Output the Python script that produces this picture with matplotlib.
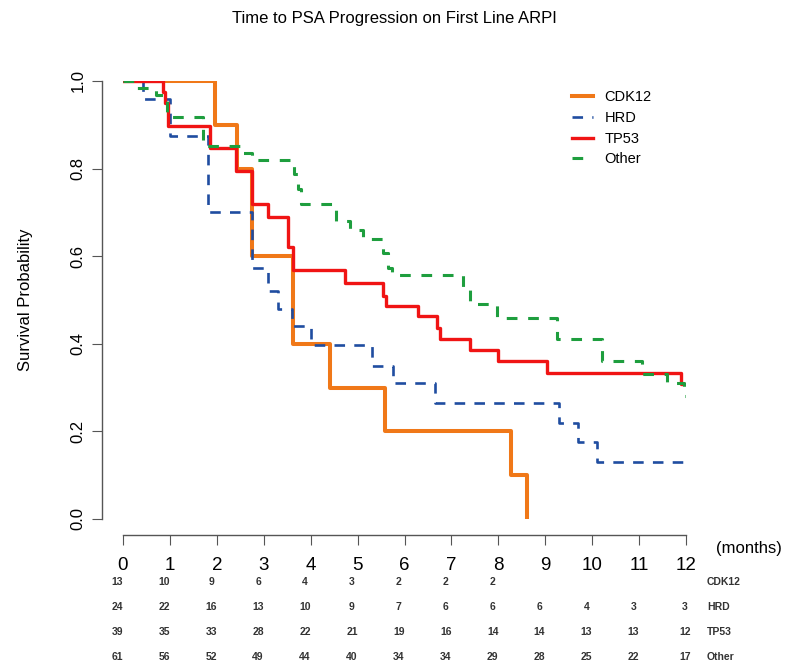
import numpy as np
import matplotlib.pyplot as plt
from matplotlib.transforms import blended_transform_factory

plt.rcParams['font.family'] = ['Liberation Sans', 'DejaVu Sans']

# Kaplan-Meier step curves
cdk12_t = [0, 1.96, 2.43, 2.75, 3.62, 4.41, 5.59, 8.27, 8.61]
cdk12_s = [1.0, 0.9, 0.8, 0.6, 0.4, 0.3, 0.2, 0.1, 0.0]

hrd_t = [0, 0.43, 1.0, 1.81, 2.75, 3.1, 3.3, 3.6, 4.0, 5.3, 5.75, 6.65, 9.3, 9.7, 10.1, 12.0]
hrd_s = [1.0, 0.958, 0.875, 0.70, 0.573, 0.52, 0.48, 0.44, 0.397, 0.35, 0.31, 0.265, 0.22, 0.175, 0.13, 0.13]

tp53_t = [0, 0.85, 0.9, 0.95, 1.86, 2.4, 2.75, 3.1, 3.52, 3.62, 4.73, 5.55, 5.6, 6.29,
          6.7, 6.75, 7.4, 8.0, 9.04, 11.9, 12.0]
tp53_s = [1.0, 0.974, 0.949, 0.897, 0.846, 0.795, 0.72, 0.69, 0.62, 0.568, 0.538, 0.51, 0.487,
          0.463, 0.436, 0.41, 0.385, 0.36, 0.333, 0.308, 0.308]

other_t = [0, 0.3, 0.7, 0.93, 1.7, 2.5, 2.75, 3.65, 3.72, 3.8, 4.55, 4.84, 5.12, 5.55, 5.65,
           5.73, 7.25, 7.4, 7.97, 9.25, 10.2, 11.07, 11.6, 11.95, 12.0]
other_s = [1.0, 0.984, 0.967, 0.918, 0.852, 0.836, 0.82, 0.787, 0.754, 0.72, 0.68, 0.66, 0.64,
           0.607, 0.574, 0.557, 0.525, 0.492, 0.459, 0.41, 0.36, 0.33, 0.31, 0.28, 0.28]

# number at risk table
risk_times = list(range(13))
risk_groups = ['CDK12', 'HRD', 'TP53', 'Other']
risk_cdk12 = [13, 10, 9, 6, 4, 3, 2, 2, 2, None, None, None, None]
risk_hrd = [24, 22, 16, 13, 10, 9, 7, 6, 6, 6, 4, 3, 3]
risk_tp53 = [39, 35, 33, 28, 22, 21, 19, 16, 14, 14, 13, 13, 12]
risk_other = [61, 56, 52, 49, 44, 40, 34, 34, 29, 28, 25, 22, 17]

fig = plt.figure(figsize=(7.87, 6.66), dpi=100)
ax = fig.add_axes([123 / 787, 1 - 519 / 666, 563 / 787, 438 / 666])

ax.step(cdk12_t, cdk12_s, where='post', color='#F07818', lw=2.9, label='CDK12')
ax.step(hrd_t, hrd_s, where='post', color='#1F4DA0', lw=1.9, dashes=(4, 3.5), label='HRD')
ax.step(tp53_t, tp53_s, where='post', color='#F01414', lw=2.4, label='TP53')
ax.step(other_t, other_s, where='post', color='#1E9E3E', lw=2.2, dashes=(3.5, 3.5), label='Other')

ax.set_xlim(0, 12)
ax.set_ylim(0, 1)
for s in ['top', 'right']:
    ax.spines[s].set_visible(False)
ax.spines['left'].set_position(('outward', 15))
ax.spines['bottom'].set_position(('outward', 11.5))
ax.spines['left'].set_bounds(0, 1)
ax.spines['bottom'].set_bounds(0, 12)
for s in ['left', 'bottom']:
    ax.spines[s].set_color('#555555')
    ax.spines[s].set_linewidth(1.0)

ax.set_xticks(risk_times)
ax.set_yticks([0, 0.2, 0.4, 0.6, 0.8, 1.0])
ax.set_yticklabels(['0.0', '0.2', '0.4', '0.6', '0.8', '1.0'], rotation=90, va='center')
ax.tick_params(axis='x', length=7, pad=9, labelsize=13.5, color='#555555')
ax.tick_params(axis='y', length=7, pad=5, labelsize=12, color='#555555')

ax.set_ylabel('Survival Probability', fontsize=12)
ax.yaxis.set_label_coords(-0.16, 0.5)
fig.text(394 / 787, 1 - 18 / 666, 'Time to PSA Progression on First Line ARPI',
         ha='center', va='center', fontsize=12)

ax.legend(loc='upper left', bbox_to_anchor=(0.785, 0.995), frameon=False, fontsize=10.5,
          handlelength=1.4, handletextpad=0.8, labelspacing=0.45, borderpad=0)

trans = blended_transform_factory(ax.transData, fig.transFigure)
ax.text(12.65, 1 - 549 / 666, '(months)', transform=trans, fontsize=12, va='center',
        ha='left', clip_on=False)

rows = [risk_cdk12, risk_hrd, risk_tp53, risk_other]
row_y = [582, 607, 632, 657]
for vals, name, yp in zip(rows, risk_groups, row_y):
    yf = 1 - yp / 666
    for t, v in zip(risk_times, vals):
        if v is None:
            continue
        xt = t - 0.12 if t < 12 else t - 0.02
        ax.text(xt, yf, str(v), transform=trans, fontsize=7.5, fontweight='bold',
                color='#333333', ha='center', va='center', clip_on=False)
    ax.text(12.45, yf, name, transform=trans, fontsize=7.5, fontweight='bold',
            color='#333333', ha='left', va='center', clip_on=False)

fig.savefig('out.png', dpi=100)
